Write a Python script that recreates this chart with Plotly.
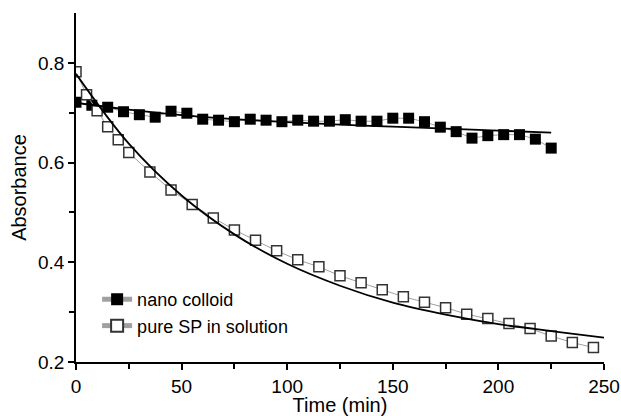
import plotly.graph_objects as go

# --- data ---
t_nano = [i * 7.5 for i in range(31)]
abs_nano = [0.721, 0.715, 0.711, 0.702, 0.696, 0.691, 0.703, 0.699, 0.687, 0.685,
            0.682, 0.687, 0.685, 0.682, 0.685, 0.683, 0.683, 0.686, 0.683, 0.683,
            0.689, 0.689, 0.682, 0.671, 0.662, 0.649, 0.654, 0.656, 0.656, 0.647, 0.629]

t_sp = [0, 5, 10, 15, 20, 25, 35, 45, 55, 65, 75, 85, 95, 105, 115, 125, 135, 145,
        155, 165, 175, 185, 195, 205, 215, 225, 235, 245]
abs_sp = [0.782, 0.736, 0.704, 0.672, 0.646, 0.620, 0.581, 0.545, 0.516, 0.489,
          0.465, 0.444, 0.423, 0.405, 0.391, 0.373, 0.359, 0.345, 0.331, 0.320,
          0.309, 0.296, 0.287, 0.277, 0.267, 0.252, 0.239, 0.229]

# fitted curves
t_fit_nano = [0, 25, 50, 75, 100, 125, 150, 175, 200, 225]
fit_nano = [0.720, 0.706, 0.695, 0.687, 0.681, 0.676, 0.672, 0.668, 0.664, 0.660]

t_fit_sp = [0, 25, 50, 75, 100, 125, 150, 175, 200, 225, 250]
fit_sp = [0.778, 0.638, 0.534, 0.456, 0.397, 0.353, 0.319, 0.295, 0.276, 0.262, 0.249]

x_ticks = [0, 50, 100, 150, 200, 250]
y_ticks = [0.2, 0.4, 0.6, 0.8]

FONT = "Liberation Sans, Arial, sans-serif"

fig = go.Figure()

fig.add_trace(go.Scatter(
    x=t_nano, y=abs_nano, mode="lines+markers", name="nano colloid",
    line=dict(color="#a0a0a0", width=1),
    marker=dict(symbol="square", size=11, color="black", line=dict(color="black", width=0)),
))
fig.add_trace(go.Scatter(
    x=t_sp, y=abs_sp, mode="lines+markers", name="pure SP in solution",
    line=dict(color="#a0a0a0", width=1),
    marker=dict(symbol="square", size=10, color="white", line=dict(color="#333333", width=1.5)),
))
fig.add_trace(go.Scatter(
    x=t_fit_nano, y=fit_nano, mode="lines", showlegend=False,
    line=dict(color="black", width=1.8, shape="spline"),
))
fig.add_trace(go.Scatter(
    x=t_fit_sp, y=fit_sp, mode="lines", showlegend=False,
    line=dict(color="black", width=1.8, shape="spline"),
))

axis_common = dict(
    showline=True, linecolor="black", linewidth=1.5,
    ticks="outside", ticklen=6, tickwidth=1.5, tickcolor="black",
    showgrid=False, zeroline=False, mirror=False, automargin=False,
    tickfont=dict(family=FONT, size=19, color="black"),
)

fig.update_layout(
    width=621, height=416,
    margin=dict(l=76, r=17, t=13, b=54),
    paper_bgcolor="white", plot_bgcolor="white",
    font=dict(family=FONT, color="black"),
    xaxis=dict(
        range=[0, 250], tickvals=x_ticks,
        minor=dict(tickvals=[25, 75, 125, 175, 225], ticks="outside", ticklen=5,
                   tickwidth=1.5, tickcolor="black"),
        title=dict(text="Time (min)", font=dict(family=FONT, size=20), standoff=0),
        **axis_common,
    ),
    yaxis=dict(
        range=[0.2, 0.9], tickvals=y_ticks, tickformat=".1f",
        minor=dict(tickvals=[0.3, 0.5, 0.7], ticks="outside", ticklen=5,
                   tickwidth=1.5, tickcolor="black"),
        title=dict(text="Absorbance", font=dict(family=FONT, size=20), standoff=6),
        **axis_common,
    ),
    legend=dict(
        x=0.04, y=0.232, xanchor="left", yanchor="top",
        bgcolor="rgba(0,0,0,0)", borderwidth=0,
        font=dict(family=FONT, size=18, color="black"),
        tracegroupgap=0, itemsizing="constant",
    ),
    showlegend=True,
)

fig.write_html("out.html", config={"displayModeBar": False},
               post_script="document.body.style.margin='0';")
